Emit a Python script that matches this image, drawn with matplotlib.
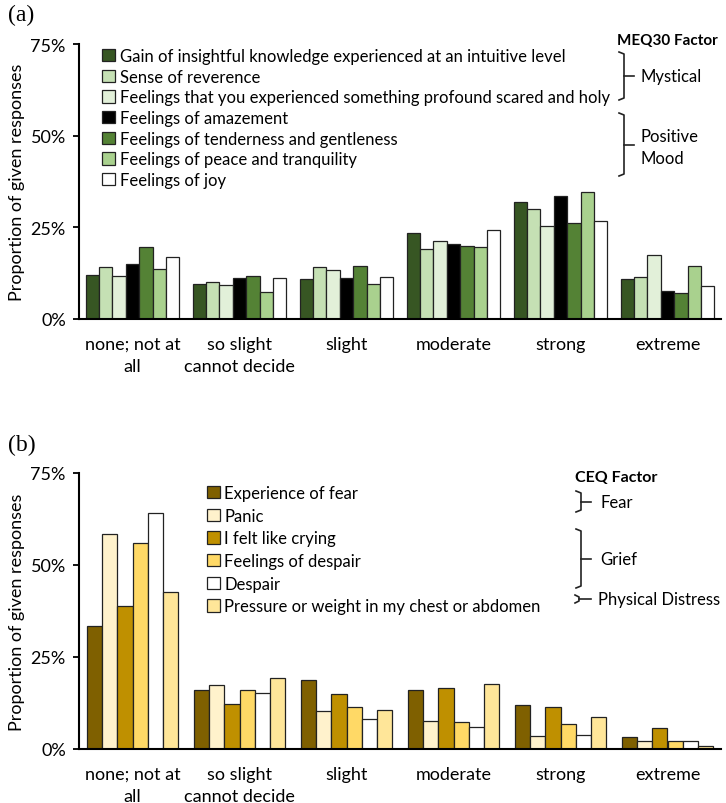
import numpy as np
import matplotlib
matplotlib.use("Agg")
import matplotlib.pyplot as plt
from matplotlib.lines import Line2D

plt.rcParams['font.family'] = ['Lato', 'DejaVu Sans']

categories = ["none; not at\nall", "so slight\ncannot decide", "slight",
              "moderate", "strong", "extreme"]

# panel (a) - MEQ30 items, proportion of responses
meq_labels = ["Gain of insightful knowledge experienced at an intuitive level",
              "Sense of reverence",
              "Feelings that you experienced something profound scared and holy",
              "Feelings of amazement",
              "Feelings of tenderness and gentleness",
              "Feelings of peace and tranquility",
              "Feelings of joy"]
meq_colors = ["#375623", "#C5E0B4", "#E2F0D9", "#000000", "#548235", "#A9D18E", "#FFFFFF"]
insight = [0.120, 0.095, 0.108, 0.235, 0.320, 0.110]
reverence = [0.143, 0.102, 0.143, 0.192, 0.300, 0.115]
profound = [0.118, 0.093, 0.134, 0.214, 0.253, 0.174]
amazement = [0.150, 0.113, 0.113, 0.204, 0.335, 0.077]
tenderness = [0.196, 0.118, 0.145, 0.199, 0.263, 0.071]
peace = [0.137, 0.073, 0.096, 0.197, 0.347, 0.144]
joy = [0.169, 0.111, 0.115, 0.242, 0.268, 0.089]
meq_values = [insight, reverence, profound, amazement, tenderness, peace, joy]

# panel (b) - CEQ items
ceq_labels = ["Experience of fear", "Panic", "I felt like crying",
              "Feelings of despair", "Despair",
              "Pressure or weight in my chest or abdomen"]
ceq_colors = ["#7F6000", "#FFF2CC", "#BF9000", "#FFD966", "#FFFFFF", "#FFE699"]
fear = [0.335, 0.159, 0.188, 0.159, 0.120, 0.032]
panic = [0.584, 0.174, 0.104, 0.076, 0.034, 0.022]
crying = [0.389, 0.123, 0.149, 0.165, 0.114, 0.056]
despair = [0.559, 0.159, 0.114, 0.074, 0.067, 0.022]
despair2 = [0.641, 0.152, 0.081, 0.061, 0.039, 0.022]
pressure = [0.427, 0.192, 0.106, 0.176, 0.086, 0.008]
ceq_values = [fear, panic, crying, despair, despair2, pressure]

W, H = 726, 804


def fx(x):
    return x / W


def fy(y):
    return 1 - y / H


def bar_panel(ax, values, colors, labels, width):
    x = np.arange(len(categories))
    n = len(values)
    for i, (vals, col, lab) in enumerate(zip(values, colors, labels)):
        ax.bar(x + (i - (n - 1) / 2) * width, vals, width, color=col,
               edgecolor="#222222", linewidth=0.9, label=lab)
    ax.set_xlim(-0.5, 5.5)
    ax.set_ylim(0, 0.75)
    ax.set_yticks([0, 0.25, 0.5, 0.75])
    ax.set_yticklabels(["0%", "25%", "50%", "75%"])
    ax.set_xticks(x)
    ax.set_xticklabels(categories, linespacing=1.45)
    ax.tick_params(axis="x", length=0, pad=12, labelsize=13)
    ax.tick_params(axis="y", length=4.5, width=1.3, pad=5, labelsize=13)
    for s in ["top", "right"]:
        ax.spines[s].set_visible(False)
    for s in ["left", "bottom"]:
        ax.spines[s].set_linewidth(1.5)
    ax.set_ylabel("Proportion of given responses", fontsize=13)
    ax.yaxis.set_label_coords(-0.084, 0.5)


def bracket(fig, x, y0, y1, tick=10, hook=5):
    mid = (y0 + y1) / 2
    segs = [([x - hook, x, x, x - hook], [y0, y0 + 2, y1 - 2, y1]),
            ([x, x + tick], [mid, mid])]
    for xs, ys in segs:
        fig.add_artist(Line2D([fx(v) for v in xs], [fy(v) for v in ys],
                              color="#222222", lw=1.2))


fig = plt.figure(figsize=(7.26, 8.04), dpi=100)
ax1 = fig.add_axes([fx(79), fy(320), fx(721) - fx(79), fy(45) - fy(320)])
ax2 = fig.add_axes([fx(79), fy(750), fx(721) - fx(79), fy(474) - fy(750)])

bar_panel(ax1, meq_values, meq_colors, meq_labels, 0.125)
bar_panel(ax2, ceq_values, ceq_colors, ceq_labels, 0.143)

leg_kw = dict(loc="upper left", frameon=False, handlelength=0.75,
              handleheight=0.75, handletextpad=0.3, borderpad=0,
              borderaxespad=0, bbox_transform=fig.transFigure)
ax1.legend(fontsize=12, labelspacing=0.28, bbox_to_anchor=(fx(102), fy(49)), **leg_kw)
ax2.legend(fontsize=12, labelspacing=0.4, bbox_to_anchor=(fx(207), fy(486)), **leg_kw)

fig.text(fx(8), fy(15), "(a)", family="Liberation Serif", fontsize=17, va="center")
fig.text(fx(8), fy(445), "(b)", family="Liberation Serif", fontsize=17, va="center")

# factor brackets, panel (a)
fig.text(fx(617), fy(41), "MEQ30 Factor", fontsize=11, fontweight="bold", va="center")
bracket(fig, 624, 53, 101)
fig.text(fx(641), fy(77), "Mystical", fontsize=12, va="center")
bracket(fig, 624, 114, 177)
fig.text(fx(641), fy(148), "Positive\nMood", fontsize=12, va="center", linespacing=1.4)

# factor brackets, panel (b)
fig.text(fx(575), fy(478), "CEQ Factor", fontsize=11.5, fontweight="bold", va="center")
bracket(fig, 581, 492, 513)
fig.text(fx(600), fy(503), "Fear", fontsize=12, va="center")
bracket(fig, 581, 530, 589)
fig.text(fx(600), fy(560), "Grief", fontsize=12, va="center")
bracket(fig, 579, 596, 604, tick=12, hook=4)
fig.text(fx(598), fy(600), "Physical Distress", fontsize=12, va="center")

fig.savefig("out.png", dpi=100)
